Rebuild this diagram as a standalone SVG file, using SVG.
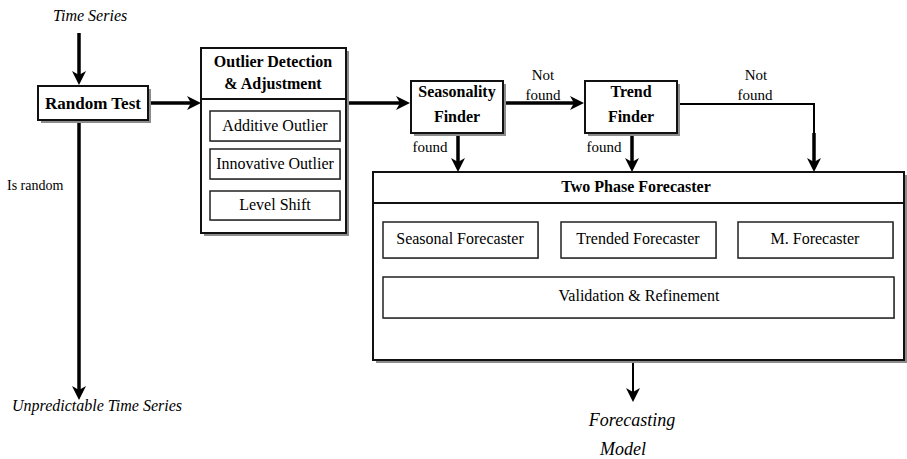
<svg xmlns="http://www.w3.org/2000/svg" width="907" height="459" viewBox="0 0 907 459">
  <style>
    text { font-family: "Liberation Serif", "Times New Roman", serif; fill: #000; }
    .b17 { font-size: 17px; font-weight: bold; text-anchor: middle; }
    .b16 { font-size: 16px; font-weight: bold; text-anchor: middle; }
    .r16 { font-size: 16px; text-anchor: middle; }
    .r15 { font-size: 15px; text-anchor: middle; }
    .r14 { font-size: 14px; }
    .i16 { font-size: 16px; font-style: italic; }
    .i18 { font-size: 18px; font-style: italic; text-anchor: middle; }
    .box { fill: #fff; stroke: #111; stroke-width: 2; }
    .inner { fill: #fff; stroke: #222; stroke-width: 1.5; }
    .shadow { fill: #8c8c8c; }
    .ishadow { fill: #b4b4b4; }
    .div { stroke: #111; stroke-width: 2; }
    .thick { stroke: #000; stroke-width: 3.5; fill: none; }
    .thin { stroke: #000; stroke-width: 2; fill: none; }
  </style>
  <defs>
    <marker id="head" markerUnits="userSpaceOnUse" markerWidth="14" markerHeight="14" refX="8" refY="7" orient="auto">
      <path d="M0,0 L14,7 L0,14 L4,7 z" fill="#000"/>
    </marker>
    <marker id="headSmall" markerUnits="userSpaceOnUse" markerWidth="10" markerHeight="10" refX="5" refY="5" orient="auto">
      <path d="M0,0 L9,5 L0,10 L3,5 z" fill="#000"/>
    </marker>
  </defs>
  <rect width="907" height="459" fill="#fff"/>

  <!-- free labels -->
  <g id="input-label"><text class="i16" x="53" y="21">Time Series</text></g>
  <g id="random-output-label"><text class="i16" x="12" y="411">Unpredictable Time Series</text></g>
  <g id="output-label">
    <text class="i18" x="632" y="426">Forecasting</text>
    <text class="i18" x="623" y="455">Model</text>
  </g>

  <!-- connectors -->
  <g id="connectors">
    <line class="thick" x1="79" y1="33" x2="79" y2="79" marker-end="url(#head)"/>
    <line class="thick" x1="148" y1="103" x2="195" y2="103" marker-end="url(#head)"/>
    <line class="thick" x1="79" y1="120" x2="79" y2="394" marker-end="url(#head)"/>
    <line class="thick" x1="346" y1="103" x2="404" y2="103" marker-end="url(#head)"/>
    <line class="thick" x1="503" y1="103" x2="578" y2="103" marker-end="url(#head)"/>
    <polyline class="thin" points="677,104 814,104 814,134"/>
    <line class="thick" x1="814" y1="133" x2="814" y2="166" marker-end="url(#head)"/>
    <line class="thick" x1="458" y1="133" x2="458" y2="166" marker-end="url(#head)"/>
    <line class="thick" x1="632" y1="133" x2="632" y2="166" marker-end="url(#head)"/>
    <line class="thin" x1="458" y1="203" x2="458" y2="218" marker-end="url(#headSmall)"/>
    <line class="thin" x1="632" y1="203" x2="632" y2="218" marker-end="url(#headSmall)"/>
    <line class="thin" x1="815" y1="203" x2="815" y2="218" marker-end="url(#headSmall)"/>
    <line class="thin" x1="458" y1="258" x2="458" y2="273" marker-end="url(#headSmall)"/>
    <line class="thin" x1="632" y1="258" x2="632" y2="273" marker-end="url(#headSmall)"/>
    <line class="thin" x1="815" y1="258" x2="815" y2="273" marker-end="url(#headSmall)"/>
    <line class="thin" x1="633" y1="361" x2="633" y2="396" marker-end="url(#head)"/>
    <text class="r14" x="7" y="190">Is random</text>
    <text class="r15" x="543" y="80">Not</text>
    <text class="r15" x="543" y="100">found</text>
    <text class="r15" x="756" y="80">Not</text>
    <text class="r15" x="755" y="100">found</text>
    <text class="r15" x="430" y="152">found</text>
    <text class="r15" x="604" y="152">found</text>
  </g>

  <!-- Random Test -->
  <g id="random-test">
    <rect class="shadow" x="41" y="89" width="110" height="34"/>
    <rect class="box" x="38" y="86" width="110" height="34"/>
    <text class="b17" x="93" y="109">Random Test</text>
  </g>

  <!-- Outlier Detection & Adjustment -->
  <g id="outlier">
    <rect class="shadow" x="204" y="51" width="145" height="185"/>
    <rect class="box" x="201" y="48" width="145" height="185"/>
    <line class="div" x1="201" y1="99" x2="346" y2="99"/>
    <text class="b16" x="273" y="67">Outlier Detection</text>
    <text class="b16" x="273" y="89">&amp; Adjustment</text>
    <g id="additive-outlier">
      <rect class="ishadow" x="211" y="112" width="130" height="30"/>
      <rect class="inner" x="210" y="111" width="130" height="30"/>
      <text class="r16" x="275" y="131">Additive Outlier</text>
    </g>
    <g id="innovative-outlier">
      <rect class="ishadow" x="211" y="150" width="130" height="30"/>
      <rect class="inner" x="210" y="149" width="130" height="30"/>
      <text class="r16" x="275" y="169">Innovative Outlier</text>
    </g>
    <g id="level-shift">
      <rect class="ishadow" x="211" y="192" width="130" height="29"/>
      <rect class="inner" x="210" y="191" width="130" height="29"/>
      <text class="r16" x="275" y="210">Level Shift</text>
    </g>
  </g>

  <!-- Seasonality Finder -->
  <g id="seasonality-finder">
    <rect class="shadow" x="414" y="84" width="92" height="52"/>
    <rect class="box" x="411" y="81" width="92" height="52"/>
    <text class="b16" x="457" y="97">Seasonality</text>
    <text class="b16" x="457" y="122">Finder</text>
  </g>

  <!-- Trend Finder -->
  <g id="trend-finder">
    <rect class="shadow" x="588" y="84" width="92" height="52"/>
    <rect class="box" x="585" y="81" width="92" height="52"/>
    <text class="b16" x="631" y="97">Trend</text>
    <text class="b16" x="631" y="122">Finder</text>
  </g>

  <!-- Two Phase Forecaster -->
  <g id="two-phase">
    <rect class="shadow" x="376" y="175" width="531" height="188"/>
    <rect class="box" x="373" y="172" width="531" height="188"/>
    <line class="div" x1="373" y1="203" x2="904" y2="203"/>
    <text class="b16" x="636" y="192">Two Phase Forecaster</text>
    <g id="seasonal-forecaster">
      <rect class="ishadow" x="384" y="223" width="155" height="36"/>
      <rect class="inner" x="383" y="222" width="155" height="36"/>
      <text class="r16" x="460" y="244">Seasonal Forecaster</text>
    </g>
    <g id="trended-forecaster">
      <rect class="ishadow" x="562" y="223" width="155" height="36"/>
      <rect class="inner" x="561" y="222" width="155" height="36"/>
      <text class="r16" x="638" y="244">Trended Forecaster</text>
    </g>
    <g id="m-forecaster">
      <rect class="ishadow" x="739" y="223" width="155" height="36"/>
      <rect class="inner" x="738" y="222" width="155" height="36"/>
      <text class="r16" x="815" y="244">M. Forecaster</text>
    </g>
    <g id="validation">
      <rect class="ishadow" x="384" y="278" width="511" height="41"/>
      <rect class="inner" x="383" y="277" width="511" height="41"/>
      <text class="r16" x="639" y="301">Validation &amp; Refinement</text>
    </g>
  </g>
</svg>
